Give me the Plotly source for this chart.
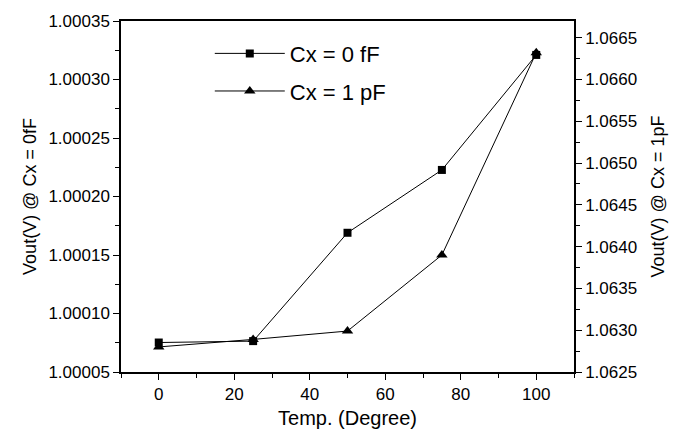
import plotly.graph_objects as go

temps = [0, 25, 50, 75, 100]
vout_0fF = [1.0000752, 1.0000764, 1.000169, 1.0002227, 1.000321]
vout_1pF = [1.06280, 1.06289, 1.06299, 1.06390, 1.06632]

label_0fF = "Cx = 0 fF"
label_1pF = "Cx = 1 pF"
x_title = "Temp. (Degree)"
y_title_left = "Vout(V) @ Cx = 0fF"
y_title_right = "Vout(V) @ Cx = 1pF"

FONT = "Liberation Sans, Arial, sans-serif"

fig = go.Figure()
fig.add_trace(go.Scatter(
    x=temps, y=vout_0fF, name=label_0fF, mode="lines+markers",
    line=dict(color="black", width=1),
    marker=dict(symbol="square", size=8, color="black"),
    legendgroup="a", yaxis="y"))
fig.add_trace(go.Scatter(
    x=temps, y=vout_1pF, name=label_1pF, mode="lines+markers",
    line=dict(color="black", width=1),
    marker=dict(symbol="triangle-up", size=10, color="black"),
    legendgroup="b", yaxis="y2"))

axis_common = dict(
    showline=True, linecolor="black", linewidth=1.5,
    ticks="outside", ticklen=6, tickwidth=1.2, tickcolor="black",
    showgrid=False, zeroline=False,
    tickfont=dict(family=FONT, size=17, color="black"),
)

fig.update_layout(
    width=689, height=438,
    margin=dict(l=121, r=115, t=15, b=60),
    paper_bgcolor="white", plot_bgcolor="white",
    font=dict(family=FONT, color="black"),
    xaxis=dict(
        **axis_common, range=[-10, 110], dtick=20, tick0=0, mirror=True,
        minor=dict(dtick=10, ticks="outside", ticklen=4, tickcolor="black", tickwidth=1),
        title=dict(text=x_title, font=dict(family=FONT, size=20), standoff=8),
    ),
    yaxis=dict(
        **axis_common, range=[1.00005, 1.00035], dtick=0.00005, tick0=1.00005,
        tickformat=".5f",
        minor=dict(dtick=0.000025, ticks="outside", ticklen=4, tickcolor="black", tickwidth=1),
        title=dict(text=y_title_left, font=dict(family=FONT, size=18), standoff=7),
    ),
    yaxis2=dict(
        **axis_common, range=[1.0625, 1.0667], dtick=0.0005, tick0=1.0625,
        tickformat=".4f", overlaying="y", side="right",
        minor=dict(dtick=0.00025, ticks="outside", ticklen=4, tickcolor="black", tickwidth=1),
        title=dict(text=y_title_right, font=dict(family=FONT, size=18), standoff=15),
    ),
    legend=dict(
        x=0.196, y=0.967, xanchor="left", yanchor="top",
        font=dict(family=FONT, size=22, color="black"),
        bgcolor="rgba(0,0,0,0)", borderwidth=0,
        traceorder="grouped", tracegroupgap=6, itemwidth=70,
    ),
    showlegend=True,
)

fig.write_html(
    "out.html",
    config={"displayModeBar": False},
    post_script="document.body.style.margin='0';document.body.style.padding='0';",
)
